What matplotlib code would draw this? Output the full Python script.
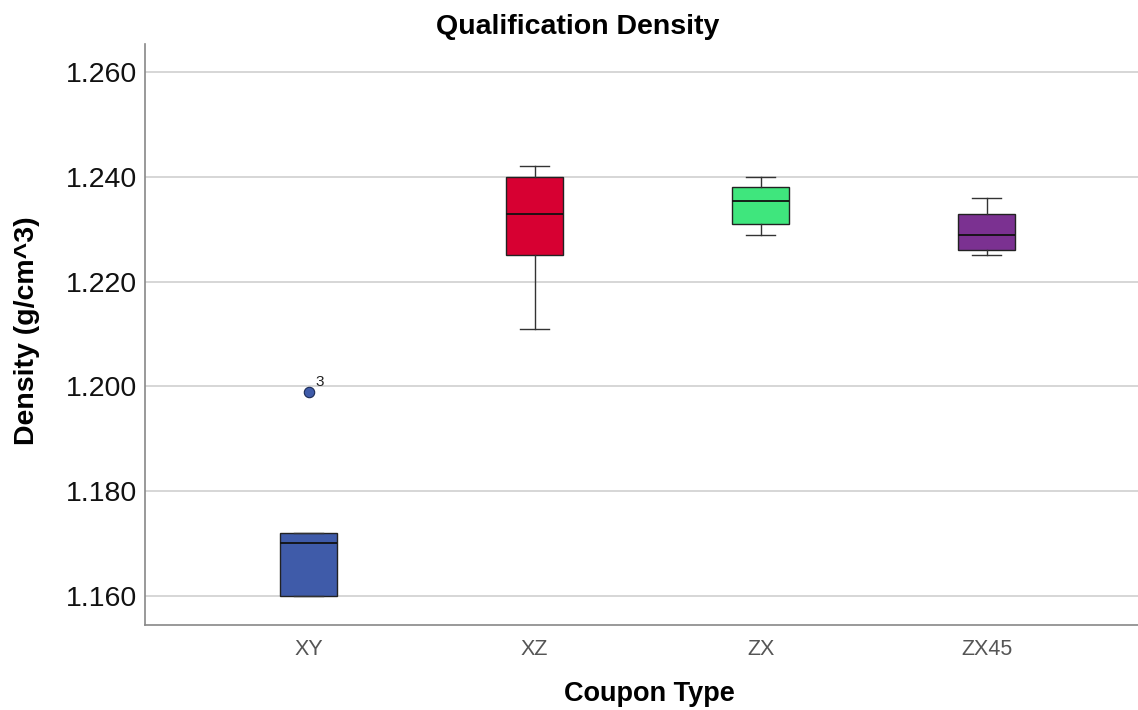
import numpy as np
import matplotlib.pyplot as plt

plt.rcParams['font.family'] = ['Liberation Sans', 'DejaVu Sans']

# coupon types and box statistics
coupon_types = ['XY', 'XZ', 'ZX', 'ZX45']
whisker_low = [1.160, 1.211, 1.229, 1.225]
q1 = [1.160, 1.225, 1.231, 1.226]
median = [1.170, 1.233, 1.2355, 1.229]
q3 = [1.172, 1.240, 1.238, 1.233]
whisker_high = [1.172, 1.242, 1.240, 1.236]
outliers = [[1.199], [], [], []]
outlier_ids = [['3'], [], [], []]
box_colors = ['#3F5BA9', '#D70032', '#3FE67D', '#7B3191']

stats = []
for i, name in enumerate(coupon_types):
    stats.append({'label': name, 'whislo': whisker_low[i], 'q1': q1[i], 'med': median[i],
                  'q3': q3[i], 'whishi': whisker_high[i], 'fliers': outliers[i]})

fig = plt.figure(figsize=(11.38, 7.10), dpi=100)
ax = fig.add_axes([0.1274, 0.1197, 0.8726, 0.8183])

pos = np.arange(len(coupon_types))
bp = ax.bxp(stats, positions=pos, widths=0.252, patch_artist=True,
            boxprops=dict(edgecolor='#222222', linewidth=1.0),
            medianprops=dict(color='#111111', linewidth=1.3),
            whiskerprops=dict(color='#333333', linewidth=1.0),
            capprops=dict(color='#333333', linewidth=1.0),
            capwidths=0.13,
            flierprops=dict(marker='o', markerfacecolor='#3F5BA9', markeredgecolor='#1a2a55',
                            markersize=7.5, markeredgewidth=0.8),
            zorder=3)
for patch, c in zip(bp['boxes'], box_colors):
    patch.set_facecolor(c)

for i, ids in enumerate(outlier_ids):
    for val, lab in zip(outliers[i], ids):
        ax.annotate(lab, (pos[i], val), xytext=(5, 4), textcoords='offset points',
                    fontsize=11, color='#222222')

ax.set_xlim(-0.724, 3.67)
ax.set_ylim(1.1544, 1.2654)
ax.set_yticks([1.160, 1.180, 1.200, 1.220, 1.240, 1.260])
ax.set_yticklabels(['%.3f' % v for v in ax.get_yticks()], fontsize=20.5, color='#111111')
ax.set_xticks(pos)
ax.set_xticklabels(coupon_types, fontsize=15.5, color='#555555')
ax.tick_params(axis='both', length=0)
ax.tick_params(axis='x', pad=10)
ax.tick_params(axis='y', pad=6)
ax.yaxis.grid(True, color='#cfcfcf', linewidth=1.2, zorder=0)
ax.set_axisbelow(True)

for s in ['top', 'right']:
    ax.spines[s].set_visible(False)
for s in ['left', 'bottom']:
    ax.spines[s].set_color('#888888')
    ax.spines[s].set_linewidth(1.2)

fig.text(0.508, 0.962, 'Qualification Density', fontsize=20.5, fontweight='bold',
         ha='center', va='center')
ax.set_xlabel('Coupon Type', fontsize=19.5, fontweight='bold')
ax.xaxis.set_label_coords(0.5076, -0.097)
ax.set_ylabel('Density (g/cm^3)', fontsize=20.5, fontweight='bold')
ax.yaxis.set_label_coords(-0.106, 0.507)

fig.savefig('out.png', dpi=100)
